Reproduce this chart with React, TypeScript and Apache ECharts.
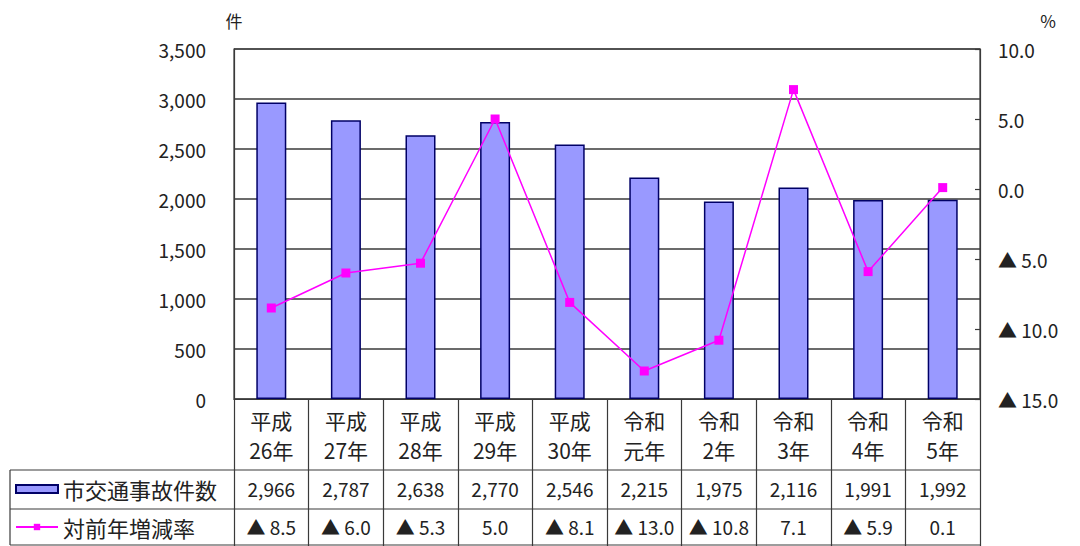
import React, { useEffect, useRef } from "react";
import * as echarts from "echarts";

const categories = ["平成\n26年", "平成\n27年", "平成\n28年", "平成\n29年", "平成\n30年", "令和\n元年", "令和\n2年", "令和\n3年", "令和\n4年", "令和\n5年"];
const accidents = [2966, 2787, 2638, 2770, 2546, 2215, 1975, 2116, 1991, 1992];
const changeRate = [-8.5, -6.0, -5.3, 5.0, -8.1, -13.0, -10.8, 7.1, -5.9, 0.1];
const leftTicks = { min: 0, max: 3500, interval: 500 };
const rightTicks = { min: -15, max: 10, interval: 5 };

const FONT = '"Noto Sans CJK JP", "Noto Sans", sans-serif';
const TXT = "#222";
const LINE = "#3a3a3a";

const fmtRate = (v: number) => (v < 0 ? "▲ " + Math.abs(v).toFixed(1) : v.toFixed(1));
const fmtCount = (v: number) => v.toLocaleString("en-US");

export default function App() {
  const ref = useRef<HTMLDivElement>(null);
  useEffect(() => {
    document.body.style.margin = "0";
    const chart = echarts.init(ref.current!, null, { renderer: "svg" });
    const gridL = 234, gridT = 49, gridR = 980, gridB = 399;
    const rowY1 = 470, rowY2 = 509, rowY3 = 545;
    const legendText = { fontFamily: FONT, fontSize: 22, lineHeight: 24, color: TXT };
    chart.setOption({
      animation: false,
      textStyle: { fontFamily: FONT, color: TXT },
      grid: {
        left: gridL, top: gridT, right: 1080 - gridR, bottom: 546 - gridB,
        show: true, borderColor: LINE, borderWidth: 1.2, backgroundColor: "transparent",
      },
      legend: [
        {
          left: 15, top: 477, padding: 0, itemWidth: 42, itemHeight: 8,
          textStyle: legendText, data: [{ name: "市交通事故件数", icon: "rect" }],
        },
        {
          left: 15, top: 515, padding: 0, itemWidth: 42, itemHeight: 8,
          textStyle: legendText, data: ["対前年増減率"],
        },
      ],
      xAxis: [
        {
          type: "category", data: categories, position: "bottom",
          axisLine: { show: true, lineStyle: { color: LINE, width: 1.2 } },
          axisTick: { show: true, interval: 0, length: 546 - gridB, lineStyle: { color: LINE, width: 1.2 } },
          axisLabel: { interval: 0, fontFamily: FONT, fontSize: 21, lineHeight: 30, color: TXT, margin: 6 },
        },
        {
          type: "category", data: categories, position: "bottom",
          axisLine: { show: false }, axisTick: { show: false },
          axisLabel: {
            interval: 0, fontFamily: FONT, fontSize: 19, color: TXT, margin: 80,
            formatter: (_v: string, i: number) => fmtCount(accidents[i]),
          },
        },
        {
          type: "category", data: categories, position: "bottom",
          axisLine: { show: false }, axisTick: { show: false },
          axisLabel: {
            interval: 0, fontFamily: FONT, fontSize: 19, color: TXT, margin: 118,
            formatter: (_v: string, i: number) => fmtRate(changeRate[i]),
          },
        },
      ],
      yAxis: [
        {
          type: "value", ...leftTicks, position: "left",
          name: "件", nameLocation: "end", nameGap: 20,
          nameTextStyle: { fontFamily: FONT, fontSize: 17, color: TXT },
          axisLine: { show: true, lineStyle: { color: LINE, width: 1.2 } },
          axisTick: { show: false },
          axisLabel: { fontFamily: FONT, fontSize: 19, color: TXT, margin: 28, formatter: (v: number) => fmtCount(v) },
          splitLine: { show: true, lineStyle: { color: LINE, width: 1.5 } },
        },
        {
          type: "value", ...rightTicks, position: "right",
          name: "%", nameLocation: "end", nameGap: 20,
          nameTextStyle: { fontFamily: FONT, fontSize: 17, color: TXT, padding: [0, 0, 0, 136] },
          axisLine: { show: true, lineStyle: { color: LINE, width: 1.2 } },
          axisTick: { show: true, inside: true, length: 5, lineStyle: { color: LINE, width: 1.2 } },
          axisLabel: { fontFamily: FONT, fontSize: 19, color: TXT, margin: 18, formatter: (v: number) => fmtRate(v) },
          splitLine: { show: false },
        },
      ],
      series: [
        {
          name: "市交通事故件数", type: "bar", data: accidents, xAxisIndex: 0, yAxisIndex: 0,
          barWidth: 30,
          itemStyle: { color: "#9999FF", borderColor: "#000066", borderWidth: 1.5 },
        },
        {
          name: "対前年増減率", type: "line", data: changeRate, xAxisIndex: 0, yAxisIndex: 1,
          symbol: "rect", symbolSize: 9,
          lineStyle: { color: "#FF00FF", width: 1.5 },
          itemStyle: { color: "#FF00FF" },
        },
      ],
      graphic: [
        { type: "line", shape: { x1: 10, y1: rowY1, x2: gridR, y2: rowY1 }, style: { stroke: LINE, lineWidth: 1.2 } },
        { type: "line", shape: { x1: 10, y1: rowY2, x2: gridR, y2: rowY2 }, style: { stroke: LINE, lineWidth: 1.2 } },
        { type: "line", shape: { x1: 10, y1: rowY3, x2: gridR, y2: rowY3 }, style: { stroke: LINE, lineWidth: 1.2 } },
        { type: "line", shape: { x1: 10, y1: rowY1, x2: 10, y2: rowY3 }, style: { stroke: LINE, lineWidth: 1.2 } },
      ],
    });
    return () => chart.dispose();
  }, []);
  return <div ref={ref} style={{ width: 1080, height: 546 }} />;
}
